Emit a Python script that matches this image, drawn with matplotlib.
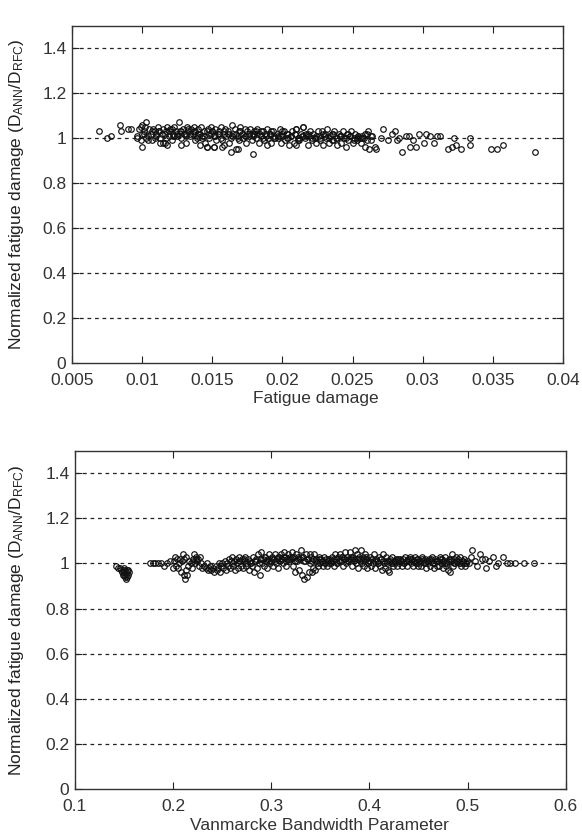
import matplotlib
matplotlib.use("Agg")
import matplotlib.pyplot as plt

plt.rcParams['font.family'] = ['Liberation Sans', 'DejaVu Sans']
plt.rcParams['mathtext.fontset'] = 'custom'
plt.rcParams['mathtext.rm'] = 'Liberation Sans'
plt.rcParams['mathtext.it'] = 'Liberation Sans'

# ---------------- data: top panel (fatigue damage) ----------------
fd_x = [
    0.0096, 0.0098, 0.0099, 0.0100, 0.0100, 0.0101, 0.0102, 0.0103, 0.0104, 0.0105,
    0.0106, 0.0107, 0.0108, 0.0109, 0.0109, 0.0110, 0.0111, 0.0112, 0.0113, 0.0114, 0.0115,
    0.0116, 0.0117, 0.0118, 0.0118, 0.0119, 0.0120, 0.0121, 0.0121, 0.0122, 0.0123, 0.0124, 0.0125,
    0.0126, 0.0127, 0.0128, 0.0128, 0.0129, 0.0130, 0.0131, 0.0131, 0.0132, 0.0133, 0.0134, 0.0135,
    0.0136, 0.0137, 0.0138, 0.0138, 0.0139, 0.0140, 0.0141, 0.0141, 0.0142, 0.0143, 0.0144, 0.0145,
    0.0146, 0.0147, 0.0148, 0.0148, 0.0149, 0.0150, 0.0151, 0.0151, 0.0152, 0.0153, 0.0154, 0.0155,
    0.0156, 0.0157, 0.0158, 0.0158, 0.0159, 0.0160, 0.0161, 0.0162, 0.0163, 0.0164, 0.0165,
    0.0166, 0.0167, 0.0168, 0.0169, 0.0169, 0.0170, 0.0171, 0.0172, 0.0173, 0.0174, 0.0175,
    0.0176, 0.0177, 0.0178, 0.0179, 0.0180, 0.0181, 0.0182, 0.0183, 0.0184, 0.0185, 0.0181,
    0.0186, 0.0187, 0.0188, 0.0189, 0.0190, 0.0191, 0.0192, 0.0193, 0.0194, 0.0195, 0.0189,
    0.0196, 0.0197, 0.0198, 0.0199, 0.0200, 0.0201, 0.0202, 0.0203, 0.0204, 0.0205, 0.0200,
    0.0206, 0.0207, 0.0208, 0.0209, 0.0210, 0.0211, 0.0212, 0.0213, 0.0214, 0.0215, 0.0210,
    0.0216, 0.0217, 0.0218, 0.0219, 0.0220, 0.0221, 0.0222, 0.0223, 0.0224, 0.0225,
    0.0226, 0.0227, 0.0228, 0.0229, 0.0230, 0.0231, 0.0232, 0.0233, 0.0234, 0.0235,
    0.0236, 0.0237, 0.0238, 0.0239, 0.0240, 0.0241, 0.0242, 0.0243, 0.0244, 0.0245,
    0.0246, 0.0247, 0.0248, 0.0249, 0.0250, 0.0251, 0.0252, 0.0253, 0.0254, 0.0255,
    0.0256, 0.0257, 0.0258, 0.0259, 0.0260, 0.0261, 0.0262, 0.0263, 0.0264, 0.0266,
    0.0069, 0.0075, 0.0078, 0.0084, 0.0085, 0.0090, 0.0092, 0.0096, 0.0100, 0.0099,
    0.0103, 0.0115, 0.0146, 0.0151, 0.0157, 0.0163, 0.0168, 0.0179, 0.0210, 0.0215,
    0.0267, 0.0272, 0.0280, 0.0282, 0.0285, 0.0290, 0.0291, 0.0295, 0.0297, 0.0301,
    0.0302, 0.0308, 0.0310, 0.0318, 0.0321, 0.0322, 0.0324, 0.0327, 0.0334, 0.0334,
    0.0349, 0.0353, 0.0357, 0.0380,
    0.0270, 0.0275, 0.0278, 0.0283, 0.0288, 0.0293, 0.0305, 0.0312,
    0.0101, 0.0104, 0.0107, 0.0110, 0.0113, 0.0116, 0.0119, 0.0122, 0.0125, 0.0128,
    0.0131, 0.0134, 0.0137, 0.0140, 0.0143, 0.0146, 0.0149, 0.0152, 0.0155, 0.0158,
    0.0161, 0.0164, 0.0167, 0.0170, 0.0173, 0.0176, 0.0179, 0.0182, 0.0185, 0.0188,
    0.0191, 0.0194, 0.0197, 0.0200, 0.0203, 0.0206, 0.0209, 0.0212, 0.0215, 0.0218,
    0.0221, 0.0224, 0.0227, 0.0230, 0.0233, 0.0236, 0.0239, 0.0242, 0.0245, 0.0248,
    0.0251, 0.0254, 0.0257, 0.0260, 0.0263,
    0.0112, 0.0117, 0.0123, 0.0127, 0.0133, 0.0139, 0.0144, 0.0150, 0.0156, 0.0162,
    0.0168, 0.0174, 0.0180, 0.0186, 0.0192, 0.0198, 0.0204, 0.0211, 0.0217, 0.0223,
    0.0229, 0.0235, 0.0241, 0.0247, 0.0253, 0.0259,
]
fd_y = [
    1.00, 1.04, 0.99, 1.06, 1.02, 1.03, 1.05, 1.00, 0.99, 1.04,
    1.02, 0.99, 1.04, 1.03, 1.00, 1.01, 1.05, 1.03, 0.98, 1.02, 1.04,
    0.98, 1.03, 1.05, 0.97, 1.01, 1.04, 0.99, 1.04, 1.02, 1.05, 1.03, 1.01,
    1.07, 1.03, 1.00, 0.97, 1.04, 1.02, 0.98, 1.02, 1.05, 1.03, 1.01, 1.04,
    1.02, 1.05, 0.99, 1.03, 1.01, 1.04, 0.97, 1.02, 1.05, 1.00, 1.03, 0.98,
    0.96, 1.04, 1.02, 1.00, 1.05, 1.03, 0.96, 1.01, 1.04, 0.99, 1.02, 1.03,
    1.05, 0.99, 1.02, 0.97, 1.04, 1.01, 1.03, 0.98, 1.00, 1.06, 1.02,
    1.04, 0.95, 1.01, 1.03, 0.99, 1.05, 1.02, 1.00, 1.04, 0.98, 1.03,
    1.01, 1.04, 0.99, 1.02, 1.03, 1.00, 1.04, 0.98, 1.02, 1.01, 1.03,
    1.03, 0.99, 1.02, 1.04, 1.00, 1.02, 0.98, 1.03, 1.01, 1.00, 0.97,
    1.02, 1.00, 1.04, 0.98, 1.01, 1.03, 0.99, 1.02, 1.00, 0.97, 1.03,
    1.01, 1.03, 0.98, 1.02, 1.04, 1.00, 0.99, 1.02, 1.01, 1.05, 0.97,
    1.00, 1.02, 0.97, 1.01, 1.03, 0.99, 1.02, 1.00, 0.98, 1.03,
    1.01, 0.99, 1.03, 0.97, 1.02, 1.00, 1.04, 0.98, 1.01, 1.02,
    0.99, 1.03, 1.00, 0.97, 1.02, 1.01, 0.98, 1.03, 1.00, 0.96,
    1.02, 0.99, 1.01, 1.03, 0.98, 1.00, 1.02, 0.99, 1.01, 1.00,
    0.98, 1.01, 1.00, 0.96, 1.02, 1.03, 0.95, 0.99, 1.01, 0.96,
    1.03, 1.00, 1.01, 1.06, 1.03, 1.04, 1.04, 1.01, 0.96, 1.05,
    1.07, 0.98, 0.96, 0.96, 0.96, 0.94, 0.95, 0.93, 1.04, 1.05,
    0.95, 1.04, 1.03, 0.99, 0.94, 1.01, 0.96, 0.96, 1.02, 0.98,
    1.02, 0.98, 1.01, 0.95, 0.96, 1.00, 0.97, 0.95, 1.00, 0.97,
    0.95, 0.95, 0.97, 0.94,
    1.00, 0.99, 1.02, 1.00, 1.01, 0.99, 1.01, 1.01,
    1.02, 1.01, 1.03, 1.02, 1.00, 1.02, 1.03, 1.01, 1.02, 1.03,
    1.01, 1.02, 1.03, 1.02, 1.01, 1.03, 1.02, 1.01, 1.02, 1.03,
    1.02, 1.01, 1.02, 1.03, 1.01, 1.02, 1.01, 1.02, 1.03, 1.01,
    1.02, 1.00, 1.01, 1.02, 1.00, 1.01, 1.02, 1.00, 1.01, 1.02,
    1.00, 1.01, 1.00, 1.01, 1.00, 1.02, 1.00, 1.01, 1.00, 1.01,
    0.99, 1.01, 1.00, 0.99, 1.01,
    1.03, 1.00, 1.01, 1.02, 1.04, 1.00, 1.01, 1.03, 1.00, 1.02,
    1.00, 1.01, 1.02, 1.00, 1.03, 1.01, 1.02, 0.99, 1.01, 1.00,
    1.02, 0.99, 1.01, 1.02, 1.00, 1.02,
]

# ---------------- data: bottom panel (Vanmarcke bandwidth) ----------------
vb_x = [
    0.142, 0.144, 0.146, 0.147, 0.148, 0.149, 0.150, 0.150, 0.151, 0.151,
    0.152, 0.152, 0.153, 0.153, 0.154, 0.155, 0.150, 0.149, 0.152, 0.154,
    0.176, 0.179, 0.182, 0.185, 0.188, 0.191, 0.194, 0.197,
    0.200, 0.201, 0.202, 0.203, 0.204, 0.205, 0.206, 0.207, 0.208, 0.209,
    0.210, 0.211, 0.211, 0.212, 0.213, 0.213, 0.214, 0.215, 0.216, 0.218, 0.219,
    0.220, 0.221, 0.222, 0.223, 0.224, 0.225, 0.226, 0.227, 0.228, 0.229,
    0.231, 0.233, 0.234, 0.236, 0.237, 0.238, 0.239,
    0.241, 0.242, 0.244, 0.245, 0.246, 0.247, 0.248, 0.249,
    0.250, 0.251, 0.253, 0.254, 0.255, 0.256, 0.257, 0.258, 0.259,
    0.260, 0.261, 0.262, 0.263, 0.264, 0.265, 0.266, 0.267, 0.268, 0.269,
    0.270, 0.271, 0.272, 0.273, 0.274, 0.275, 0.276, 0.277, 0.278, 0.279,
    0.280, 0.281, 0.282, 0.283, 0.284, 0.285, 0.286, 0.287, 0.288, 0.289,
    0.290, 0.291, 0.292, 0.293, 0.294, 0.295, 0.296, 0.297, 0.298, 0.299,
    0.300, 0.301, 0.302, 0.303, 0.304, 0.305, 0.306, 0.307, 0.308, 0.309,
    0.310, 0.311, 0.312, 0.313, 0.314, 0.315, 0.316, 0.317, 0.318, 0.319,
    0.320, 0.321, 0.322, 0.323, 0.324, 0.325, 0.326, 0.327, 0.328, 0.329,
    0.330, 0.331, 0.332, 0.333, 0.334, 0.335, 0.336, 0.337, 0.338, 0.339,
    0.340, 0.341, 0.342, 0.343, 0.344, 0.345, 0.346, 0.347, 0.348, 0.349,
    0.350, 0.351, 0.352, 0.353, 0.354, 0.355, 0.356, 0.357, 0.358, 0.359,
    0.360, 0.361, 0.362, 0.363, 0.364, 0.365, 0.366, 0.367, 0.368, 0.369,
    0.370, 0.371, 0.372, 0.373, 0.374, 0.375, 0.376, 0.377, 0.378, 0.379,
    0.380, 0.381, 0.382, 0.383, 0.384, 0.385, 0.386, 0.387, 0.388, 0.389,
    0.390, 0.391, 0.392, 0.393, 0.394, 0.395, 0.396, 0.397, 0.398, 0.399,
    0.400, 0.401, 0.402, 0.403, 0.404, 0.405, 0.406, 0.407, 0.408, 0.409,
    0.410, 0.411, 0.412, 0.413, 0.414, 0.415, 0.416, 0.417, 0.418, 0.419,
    0.420, 0.421, 0.422, 0.423, 0.424, 0.425, 0.426, 0.427, 0.428, 0.429,
    0.430, 0.431, 0.432, 0.433, 0.434, 0.435, 0.436, 0.437, 0.438, 0.439,
    0.440, 0.441, 0.442, 0.443, 0.444, 0.445, 0.446, 0.447, 0.448, 0.449,
    0.450, 0.451, 0.452, 0.453, 0.454, 0.455, 0.456, 0.457, 0.458, 0.459,
    0.460, 0.461, 0.462, 0.463, 0.464, 0.465, 0.466, 0.467, 0.468, 0.469,
    0.470, 0.471, 0.472, 0.473, 0.474, 0.475, 0.476, 0.477, 0.478, 0.479,
    0.480, 0.481, 0.482, 0.483, 0.484, 0.485, 0.486, 0.487, 0.488, 0.489,
    0.490, 0.491, 0.492, 0.493, 0.494, 0.495, 0.496, 0.497, 0.498, 0.499,
    0.501, 0.503, 0.505, 0.508, 0.510, 0.513, 0.515, 0.518, 0.519, 0.522,
    0.526, 0.529, 0.531, 0.536, 0.540, 0.543, 0.548, 0.558, 0.568,
    0.2205, 0.2235, 0.2615, 0.2675, 0.2725, 0.2785, 0.2835, 0.2895, 0.2935, 0.2975,
    0.3005, 0.3035, 0.3065, 0.3095, 0.3125, 0.3155, 0.3185, 0.3215, 0.3245, 0.3275,
    0.3305, 0.3335, 0.3365, 0.3395, 0.3425, 0.3455, 0.3485, 0.3515, 0.3545, 0.3575,
    0.3605, 0.3635, 0.3665, 0.3695, 0.3725, 0.3755, 0.3785, 0.3815, 0.3845, 0.3875,
    0.3905, 0.3935, 0.3965, 0.3995, 0.4025, 0.4055, 0.4085, 0.4115, 0.4145, 0.4175,
    0.4205, 0.4235, 0.4265, 0.4295, 0.4325, 0.4355, 0.4385, 0.4415, 0.4445, 0.4475,
    0.4505, 0.4535, 0.4565, 0.4595, 0.4625, 0.4655, 0.4685, 0.4715, 0.4745, 0.4775,
    0.4805, 0.4835, 0.4865, 0.4895, 0.4925, 0.4955, 0.4985,
]
vb_y = [
    0.99, 0.98, 0.98, 0.97, 0.96, 0.97, 0.95, 0.96, 0.94, 0.97,
    0.95, 0.96, 0.94, 0.97, 0.95, 0.96, 0.98, 0.95, 0.93, 0.97,
    1.00, 1.00, 1.00, 1.00, 1.00, 0.99, 1.00, 1.01,
    0.98, 1.01, 1.03, 0.99, 1.02, 0.98, 1.00, 1.02, 0.96, 1.01,
    1.04, 0.95, 1.02, 0.93, 0.97, 1.03, 0.95, 0.99, 1.01, 1.00, 0.98,
    1.02, 1.04, 1.00, 1.03, 1.01, 1.02, 0.99, 1.03, 1.00, 0.98,
    0.99, 0.98, 1.00, 0.97, 0.98, 0.99, 0.97,
    0.98, 0.96, 0.99, 0.97, 0.98, 1.00, 0.96, 0.99,
    1.00, 0.98, 1.01, 0.97, 1.00, 0.99, 1.02, 0.98, 1.01,
    1.03, 0.99, 1.01, 0.97, 1.02, 1.00, 0.98, 1.03, 1.01, 0.99,
    1.02, 0.98, 1.01, 1.03, 0.99, 1.00, 1.02, 0.97, 1.01, 1.00,
    0.99, 1.03, 0.96, 1.01, 1.02, 0.98, 1.04, 1.00, 0.95, 1.02,
    1.05, 1.00, 1.02, 0.99, 1.03, 1.01, 0.98, 1.02, 1.04, 1.00,
    1.01, 1.03, 0.99, 1.02, 1.04, 1.00, 1.02, 0.98, 1.03, 1.01,
    1.04, 1.02, 1.00, 1.05, 1.03, 0.99, 1.02, 1.04, 1.01, 1.03,
    1.02, 1.05, 0.99, 1.03, 0.96, 1.04, 1.01, 1.03, 0.97, 1.02,
    1.06, 0.95, 1.03, 0.93, 1.01, 1.04, 0.94, 1.02, 0.96, 1.00,
    1.03, 0.96, 1.01, 0.98, 1.04, 0.97, 1.02, 1.00, 0.99, 1.03,
    1.00, 1.02, 1.01, 0.99, 1.03, 1.00, 1.02, 0.99, 1.01, 1.00,
    1.02, 1.00, 1.03, 1.01, 0.99, 1.04, 1.02, 1.00, 1.03, 1.01,
    1.04, 1.01, 1.03, 0.99, 1.02, 1.05, 1.00, 1.03, 1.01, 1.02,
    1.05, 1.02, 0.99, 1.03, 1.01, 1.06, 1.00, 1.02, 0.98, 1.03,
    1.02, 1.06, 1.00, 1.03, 0.99, 1.04, 1.01, 1.02, 0.98, 1.00,
    1.01, 1.03, 0.99, 1.02, 1.00, 1.04, 0.98, 1.02, 1.01, 1.00,
    1.03, 0.99, 1.02, 0.97, 1.04, 1.00, 0.98, 1.03, 1.01, 0.97,
    0.96, 1.02, 1.00, 1.03, 0.99, 1.01, 1.00, 1.02, 0.99, 1.01,
    1.00, 1.02, 1.01, 0.99, 1.02, 1.00, 1.03, 1.01, 0.99, 1.02,
    1.01, 1.03, 1.00, 1.02, 0.99, 1.01, 1.03, 1.00, 1.02, 0.99,
    1.02, 1.00, 1.01, 0.99, 1.03, 1.01, 1.00, 1.02, 0.98, 1.01,
    1.00, 1.02, 0.99, 1.01, 1.03, 1.00, 0.98, 1.02, 1.01, 0.99,
    1.01, 0.99, 1.03, 1.00, 1.02, 0.98, 1.01, 1.03, 0.99, 1.00,
    0.97, 1.02, 0.96, 1.01, 1.04, 0.99, 1.02, 1.00, 1.03, 1.01,
    1.02, 1.00, 1.03, 0.99, 1.01, 1.00, 1.02, 0.99, 1.00, 1.01,
    1.00, 1.03, 1.06, 1.01, 0.99, 1.04, 1.02, 1.02, 0.98, 1.01,
    1.03, 0.99, 1.00, 1.03, 1.00, 1.00, 1.00, 1.00, 1.00,
    1.01, 1.02, 1.00, 1.01, 1.02, 1.00, 1.01, 1.02, 1.03, 1.01,
    1.02, 1.01, 1.03, 1.02, 1.03, 1.01, 1.02, 1.03, 1.01, 1.02,
    1.03, 1.01, 1.02, 1.04, 1.02, 1.01, 1.02, 1.01, 1.00, 1.02,
    1.01, 1.02, 1.00, 1.01, 1.03, 1.02, 1.01, 1.03, 1.02, 1.04,
    1.01, 1.02, 1.03, 1.01, 1.02, 1.01, 1.00, 1.02, 1.01, 1.00,
    1.01, 1.00, 1.01, 1.02, 1.01, 1.00, 1.01, 1.02, 1.01, 1.00,
    1.01, 1.02, 1.00, 1.01, 1.02, 1.00, 1.01, 1.02, 1.01, 1.00,
    1.01, 1.02, 1.00, 1.01, 1.00, 1.01, 1.00,
]

y_ticks = [0, 0.2, 0.4, 0.6, 0.8, 1.0, 1.2, 1.4]
y_ticklabels = ["0", "0.2", "0.4", "0.6", "0.8", "1", "1.2", "1.4"]
top_xticks = [0.005, 0.01, 0.015, 0.02, 0.025, 0.03, 0.035, 0.04]
top_xticklabels = ["0.005", "0.01", "0.015", "0.02", "0.025", "0.03", "0.035", "0.04"]
bot_xticks = [0.1, 0.2, 0.3, 0.4, 0.5, 0.6]
bot_xticklabels = ["0.1", "0.2", "0.3", "0.4", "0.5", "0.6"]

W, H = 582, 836
fig = plt.figure(figsize=(W / 100, H / 100), dpi=100)

def axes_px(l, t, r, b):
    return fig.add_axes([l / W, 1 - b / H, (r - l) / W, (b - t) / H])

ax1 = axes_px(72, 25.5, 563, 363)
ax2 = axes_px(75, 450.7, 565.7, 789)

FS = 12.5
ylabel = r"Normalized fatigue damage (D$_{\mathrm{ANN}}$/D$_{\mathrm{RFC}}$)"

def style(ax, xt, xtl, xlim):
    ax.set_xlim(*xlim)
    ax.set_ylim(0, 1.5)
    ax.set_xticks(xt)
    ax.set_xticklabels(xtl, fontsize=FS)
    ax.set_yticks(y_ticks)
    ax.set_yticklabels(y_ticklabels, fontsize=FS)
    ax.tick_params(direction='in', top=True, right=True, length=5, width=0.8,
                   colors='#222222', labelcolor='#333333')
    ax.tick_params(axis='x', pad=7)
    ax.tick_params(axis='y', pad=4)
    for g in y_ticks[1:]:
        ax.axhline(g, color='#222222', linestyle=(0, (3, 3)), linewidth=0.9, zorder=1)
    for s in ax.spines.values():
        s.set_linewidth(1.0)
        s.set_color('#333333')

style(ax1, top_xticks, top_xticklabels, (0.005, 0.04))
style(ax2, bot_xticks, bot_xticklabels, (0.1, 0.6))

mk = dict(linestyle='none', marker='o', markersize=4.0, markerfacecolor='none',
          markeredgecolor='#111111', markeredgewidth=0.85, zorder=3)
ax1.plot(fd_x, fd_y, **mk)
ax2.plot(vb_x, vb_y, **mk)

fig.text(17 / W, 1 - 194 / H, ylabel, rotation=90, ha='center', va='center',
         fontsize=FS, color='#222222')
fig.text(17 / W, 1 - 620 / H, ylabel, rotation=90, ha='center', va='center',
         fontsize=FS, color='#222222')
fig.text(316 / W, 1 - 398 / H, "Fatigue damage", ha='center', va='center',
         fontsize=FS, color='#333333')
fig.text(319 / W, 1 - 825 / H, "Vanmarcke Bandwidth Parameter", ha='center', va='center',
         fontsize=FS, color='#333333')

fig.savefig("out.png", dpi=100)
